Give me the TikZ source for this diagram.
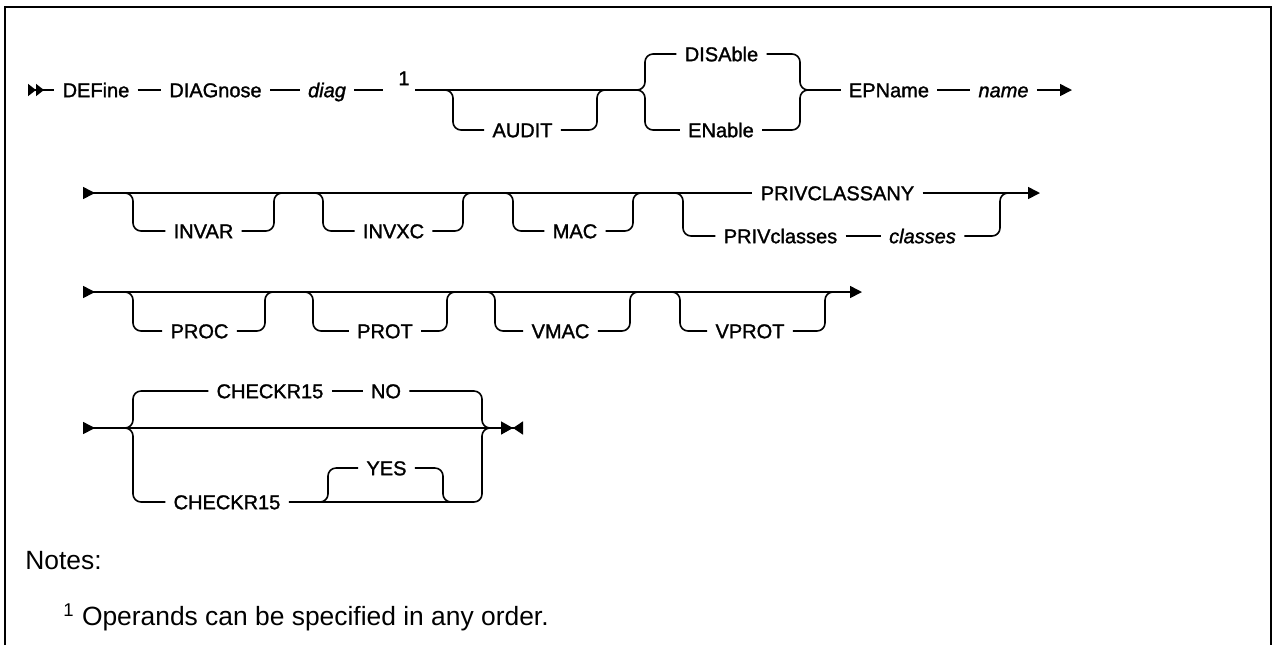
\documentclass[tikz,border=0pt]{standalone}
\usepackage{fontspec}
\setmainfont{Liberation Sans}
\newfontfamily\railfont{Liberation Sans}[BoldFont={Liberation Sans}, BoldItalicFont={Liberation Sans Italic},
  BoldFeatures={FakeBold=1.4}, BoldItalicFeatures={FakeBold=1.4}]
\usetikzlibrary{arrows.meta}

\begin{document}
\begin{tikzpicture}[x=0.5pt,y=-0.5pt,
  rail/.style={line width=0.8pt, rounded corners=4pt},
  kw/.style={font=\railfont\bfseries\fontsize{10}{12}\selectfont, inner xsep=4pt, inner ysep=0pt,
    text height=7.2pt, text depth=0pt},
  var/.style={kw, font=\railfont\bfseries\fontsize{10}{12}\selectfont\itshape},
  note/.style={anchor=base west, inner sep=0pt, font=\fontsize{13.2}{16}\selectfont}]
\useasboundingbox (0,0) rectangle (1273,645);
\draw[line width=1pt] (5,645) -- (5,7) -- (1271,7) -- (1271,645);

% first line
\node[kw] (defn) at (96,90) {DEFine};
\node[kw] (diagn) at (215.5,90) {DIAGnose};
\node[var] (diag) at (327,90) {diag};
\node[kw, inner xsep=2.75pt] (ref) at (399,90) {\hspace*{5pt}\raisebox{6pt}{1}};
\node[kw] (audit) at (522.5,130) {AUDIT};
\node[kw] (disable) at (721.5,54) {DISAble};
\node[kw] (enable) at (721,130) {ENable};
\node[kw] (epname) at (889,90) {EPName};
\node[var] (name) at (1003.5,90) {name};
\coordinate (s1) at (28,90);
\coordinate (auin) at (443,90);
\coordinate (auout) at (607,90);
\coordinate (dl) at (637,90);
\coordinate (dr) at (808,90);
\coordinate (e1) at (1072,90);
\draw[rail, {Triangle[reversed,length=4pt,width=6pt]Triangle[reversed,length=4pt,width=6pt]}-]
  (s1) -- (defn);
\draw[rail] (defn) -- (diagn) -- (diag) -- (ref);
\draw[rail] (ref) -- (dl);
\draw[rail] (dl) -- ++(8,0) |- (disable) (dl) -- ++(8,0) |- (enable);
\draw[rail] (dr) -- ++(-8,0) |- (disable) (dr) -- ++(-8,0) |- (enable);
\draw[rail] (dr) -- (epname) -- (name);
\draw[rail, -{Triangle[length=6pt,width=6pt]}] (name) -- (e1);

% second line
\node[kw] (invar) at (203.5,231) {INVAR};
\node[kw] (invxc) at (393.5,231) {INVXC};
\node[kw] (mac) at (575,231) {MAC};
\node[kw] (privany) at (837.5,193) {PRIVCLASSANY};
\node[kw] (privcls) at (780.5,236) {PRIVclasses};
\node[var] (classes) at (922.5,236) {classes};
\coordinate (s2) at (83,193);
\coordinate (ivin) at (123,193);
\coordinate (ivout) at (284,193);
\coordinate (ixin) at (313,193);
\coordinate (ixout) at (473,193);
\coordinate (mcin) at (503,193);
\coordinate (mcout) at (643,193);
\coordinate (pvin) at (673,193);
\coordinate (pvout) at (1010,193);
\coordinate (e2) at (1040,193);
\draw[rail, {Triangle[reversed,length=6pt,width=6pt]}-] (s2) -- (privany);
\draw[rail, -{Triangle[length=6pt,width=6pt]}] (privany) -- (e2);
\draw[rail] (pvin) -- ++(10,0) |- (privcls);
\draw[rail] (privcls) -- (classes);
\draw[rail] (pvout) -- ++(-10,0) |- (classes);

% third line
\node[kw] (proc) at (199.5,331) {PROC};
\node[kw] (prot) at (385,331) {PROT};
\node[kw] (vmac) at (560.5,331) {VMAC};
\node[kw] (vprot) at (750,331) {VPROT};
\coordinate (s3) at (83,292);
\coordinate (pcin) at (123,292);
\coordinate (pcout) at (275,292);
\coordinate (ptin) at (303,292);
\coordinate (ptout) at (457,292);
\coordinate (vmin) at (485,292);
\coordinate (vmout) at (640,292);
\coordinate (vpin) at (670,292);
\coordinate (vpout) at (835,292);
\coordinate (e3) at (862,292);
\draw[rail, {Triangle[reversed,length=6pt,width=6pt]}-{Triangle[length=6pt,width=6pt]}] (s3) -- (e3);

\foreach \n/\a/\b in {audit/auin/auout, invar/ivin/ivout, invxc/ixin/ixout, mac/mcin/mcout,
    proc/pcin/pcout, prot/ptin/ptout, vmac/vmin/vmout, vprot/vpin/vpout}
  \draw[rail] (\a) -- ++(10,0) |- (\n) (\b) -- ++(-10,0) |- (\n);

% fourth line
\node[kw] (chkno) at (270,391) {CHECKR15};
\node[kw] (no) at (386,391) {NO};
\node[kw] (chkyes) at (227,502) {CHECKR15};
\node[kw] (yes) at (386.5,468) {YES};
\coordinate (s4) at (83,428);
\coordinate (cl) at (125,428);
\coordinate (cr) at (490,428);
\coordinate (ysin) at (318,502);
\coordinate (ysout) at (453,502);
\coordinate (e4) at (523,428);
\draw[rail, {Triangle[reversed,length=6pt,width=6pt]}-] (s4) -- (cl);
\draw[rail] (cl) -- (cr);
\draw[rail, -{Triangle[length=6pt,width=6.5pt]Triangle[reversed,length=5pt,width=6.5pt]}] (cr) -- (e4);
\draw[rail] (cl) -- ++(8,0) |- (chkno) (cl) -- ++(8,0) |- (chkyes);
\draw[rail] (chkno) -- (no);
\draw[rail] (cr) -- ++(-8,0) |- (no) (cr) -- ++(-8,0) |- (chkyes);
\draw[rail] (ysin) -- ++(10,0) |- (yes) (ysout) -- ++(-10,0) |- (yes);

% notes
\node[note] (notes) at (25,569) {Notes:};
\node[note] (note1) at (63,625) {\textsuperscript{1} Operands can be specified in any order.};
\end{tikzpicture}
\end{document}
